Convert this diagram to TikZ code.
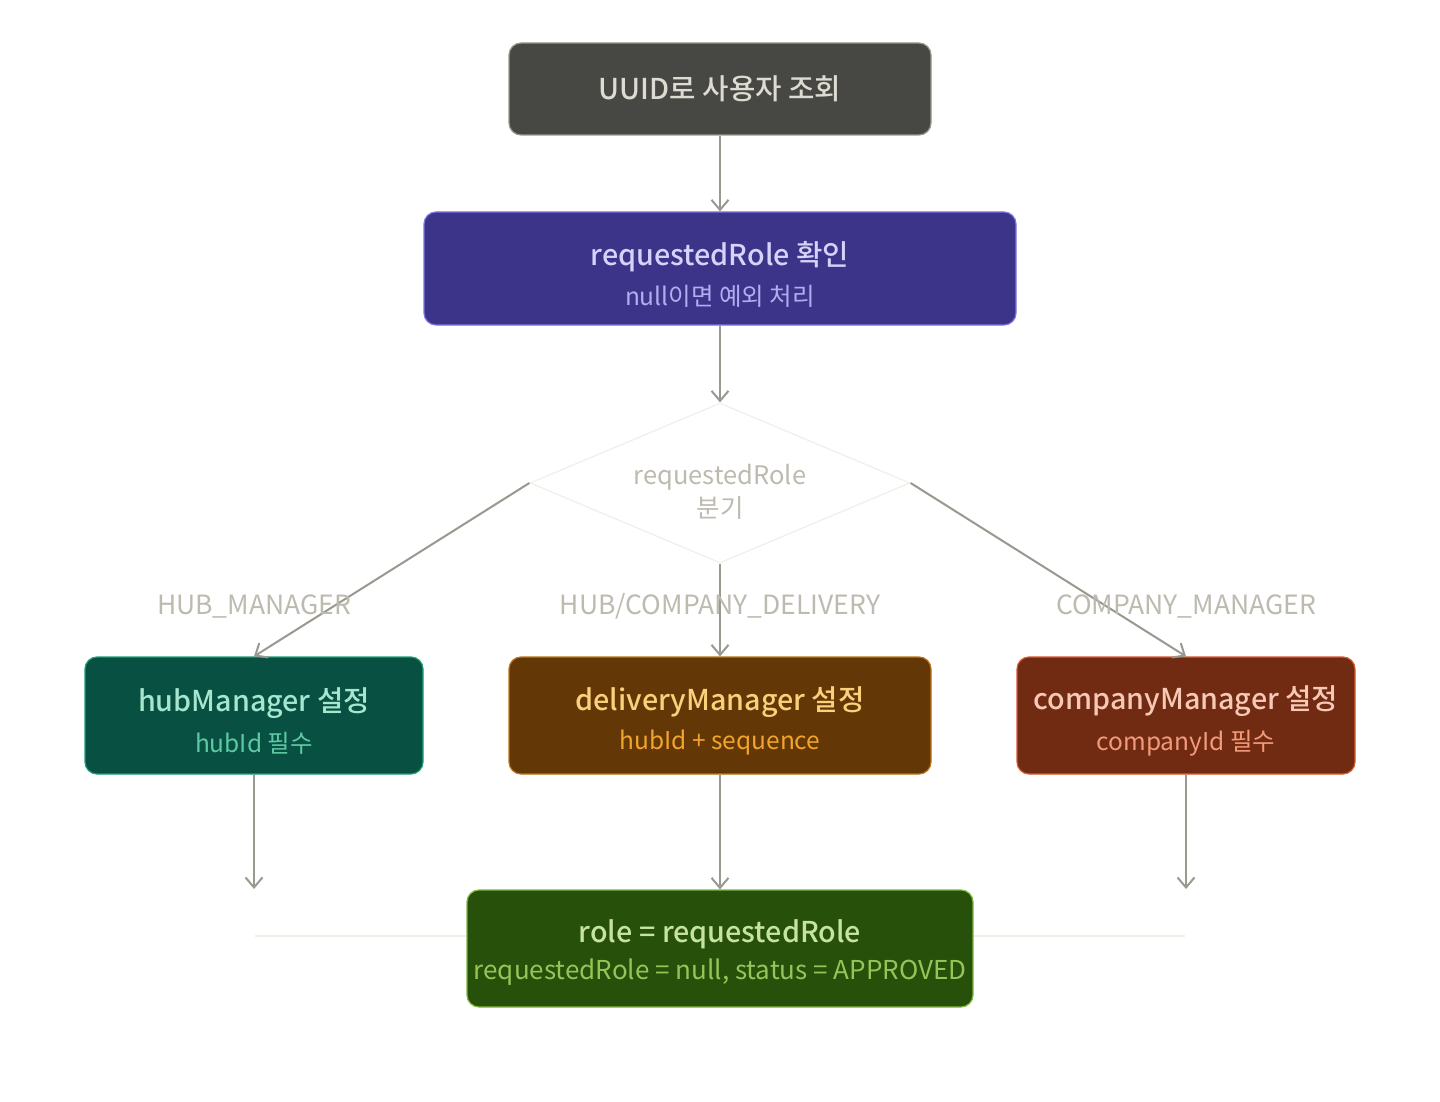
\documentclass[tikz,border=0pt]{standalone}
\usepackage{fontspec}
\setmainfont{Noto Sans CJK KR}[BoldFont={Noto Sans CJK KR Medium}]
\newfontfamily\kr{Noto Sans CJK KR}[BoldFont={Noto Sans CJK KR Medium}]
\usetikzlibrary{arrows.meta,shapes.geometric}
\definecolor{arrowc}{HTML}{9A988F}
\definecolor{lblc}{HTML}{BDBAB0}
\definecolor{dialine}{HTML}{F1EFE8}
\definecolor{grayF}{HTML}{474743}\definecolor{grayD}{HTML}{9A988F}\definecolor{grayT}{HTML}{DEDBD2}
\definecolor{purF}{HTML}{3C3489}\definecolor{purD}{HTML}{7F77DD}\definecolor{purT}{HTML}{D6D2FA}\definecolor{purS}{HTML}{B2ACF0}
\definecolor{teaF}{HTML}{085041}\definecolor{teaD}{HTML}{1D9E75}\definecolor{teaT}{HTML}{A6E6CF}\definecolor{teaS}{HTML}{5DCAA5}
\definecolor{ambF}{HTML}{633806}\definecolor{ambD}{HTML}{BA7517}\definecolor{ambT}{HTML}{FAD07A}\definecolor{ambS}{HTML}{F2A52C}
\definecolor{corF}{HTML}{712B13}\definecolor{corD}{HTML}{D85A30}\definecolor{corT}{HTML}{F8C8B6}\definecolor{corS}{HTML}{F39A7B}
\definecolor{grnF}{HTML}{27500A}\definecolor{grnD}{HTML}{7DB842}\definecolor{grnT}{HTML}{C6E3A0}\definecolor{grnS}{HTML}{97C459}
\tikzset{
  box/.style={rounded corners=12pt, line width=1.2pt, align=center, inner sep=0pt},
  conn/.style={draw=arrowc, line width=2pt, -{Straight Barb[length=10pt,width=17pt,line width=2pt]}},
  lbl/.style={text=lblc, font=\fontsize{26.5}{30}\selectfont},
}
\newcommand{\ttlx}[1]{{\fontsize{28.7}{32}\selectfont\bfseries #1}}
\newcommand{\subx}[1]{{\fontsize{24.5}{28}\selectfont #1}}
\newcommand{\K}[1]{{\kr #1}}
\newcommand{\lift}[1]{\rule{0pt}{#1}}
\begin{document}
\begin{tikzpicture}[x=1pt,y=-1pt]
\useasboundingbox[fill=white] (0,0) rectangle (1440,1102);
% background line
\coordinate (lineL) at (255,936);
\coordinate (lineR) at (1185,936);
\draw[dialine, line width=1.5pt] (lineL) -- (lineR);

\node[box, fill=grayF, draw=grayD, text=grayT, minimum width=422pt, minimum height=92pt] (n1) at (720,89)
  {\ttlx{UUID\K{로 사용자 조회}}};
\node[box, fill=purF, draw=purD, minimum width=592pt, minimum height=113pt] (n2) at (720,268.5)
  {\lift{36pt}\textcolor{purT}{\ttlx{requestedRole \K{확인}}}\\[12pt]\textcolor{purS}{\subx{null\K{이면 예외 처리}}}};
\node[diamond, draw=dialine, line width=1.2pt, aspect=2.375, minimum width=380pt, minimum height=160pt, inner sep=0pt, align=center, text=lblc, font=\fontsize{25.5}{33}\selectfont] (dia) at (720,483)
  {\lift{37pt}requestedRole\\\K{분기}};

\node[box, fill=teaF, draw=teaD, minimum width=338pt, minimum height=117pt] (hub) at (254,715.5)
  {\lift{35pt}\textcolor{teaT}{\ttlx{hubManager \K{설정}}}\\[12pt]\textcolor{teaS}{\subx{hubId \K{필수}}}};
\node[box, fill=ambF, draw=ambD, minimum width=422pt, minimum height=117pt] (del) at (720,715.5)
  {\lift{35pt}\textcolor{ambT}{\ttlx{deliveryManager \K{설정}}}\\[12pt]\textcolor{ambS}{\subx{hubId + sequence}}};
\node[box, fill=corF, draw=corD, minimum width=338pt, minimum height=117pt] (comp) at (1186,715.5)
  {\lift{35pt}\textcolor{corT}{\ttlx{companyManager \K{설정}}}\\[12pt]\textcolor{corS}{\subx{companyId \K{필수}}}};

\node[box, fill=grnF, draw=grnD, minimum width=506pt, minimum height=117pt] (fin) at (720,948.5)
  {\lift{31pt}\textcolor{grnT}{\ttlx{role = requestedRole}}\\[9pt]\textcolor{grnS}{{\fontsize{26}{28}\selectfont requestedRole = null, status = APPROVED}}};

\coordinate (hubend) at (254,889);
\coordinate (compend) at (1186,889);

\draw[conn] (n1) -- (n2);
\draw[conn] (n2) -- (dia.north);
\draw[conn] (dia.west) -- (hub.north);
\draw[conn] (dia.south) -- (del.north);
\draw[conn] (dia.east) -- (comp.north);
\draw[conn] (hub) -- (hubend);
\draw[conn] (del) -- (fin);
\draw[conn] (comp) -- (compend);

\node[lbl] (l1) at (254,606) {HUB\_MANAGER};
\node[lbl] (l2) at (720,606) {HUB/COMPANY\_DELIVERY};
\node[lbl] (l3) at (1186,606) {COMPANY\_MANAGER};
\end{tikzpicture}
\end{document}
